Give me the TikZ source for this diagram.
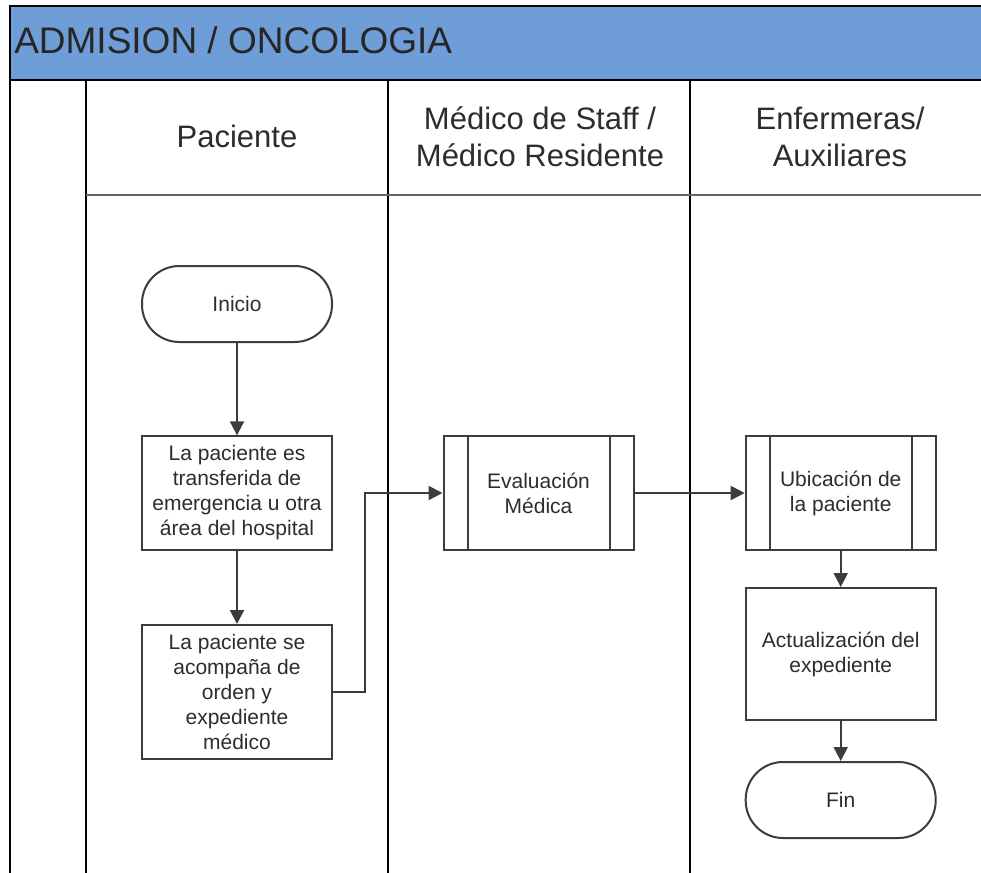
\documentclass[tikz,border=0pt]{standalone}
\usepackage{fontspec}
\setmainfont{Liberation Sans}
\usetikzlibrary{arrows.meta}
\definecolor{bandblue}{RGB}{111,157,216}
\definecolor{inkgray}{RGB}{45,45,45}
\definecolor{edgegray}{RGB}{60,60,60}
\tikzset{
  lane/.style={line width=1.5pt, black},
  boxtext/.style={font=\fontsize{15.75}{18.75}\selectfont, text=inkgray, align=center},
  procbox/.style={boxtext, draw=edgegray, line width=1.5pt, fill=white,
    minimum width=142.5pt, inner sep=0pt},
  termbox/.style={procbox, rounded corners=28pt, minimum height=57pt},
  subproc/.style={procbox, path picture={
      \draw[edgegray, line width=1.5pt]
        ([xshift=18pt]path picture bounding box.north west) --
        ([xshift=18pt]path picture bounding box.south west);
      \draw[edgegray, line width=1.5pt]
        ([xshift=-18pt]path picture bounding box.north east) --
        ([xshift=-18pt]path picture bounding box.south east);}},
  flow/.style={edgegray, line width=1.5pt, -{Triangle[length=10.5pt,width=10.5pt]}},
  lanehead/.style={font=\fontsize{23.25}{27.75}\selectfont, text=inkgray, align=center}
}
\begin{document}
\begin{tikzpicture}[x=0.75pt,y=-0.75pt]
  \clip (0,0) rectangle (981,872);
  \fill[white] (0,0) rectangle (981,872);

  % pool title band
  \draw[line width=1.5pt, fill=bandblue] (10,6) rectangle (1000,80);
  \node[anchor=base west, inner sep=0pt, text=black!85,
        font=\fontsize{27.75}{32}\selectfont] (title) at (14,53) {ADMISION / ONCOLOGIA};

  % lane borders
  \draw[lane] (10,80) -- (10,880);
  \draw[lane] (86,80) -- (86,880);
  \draw[lane] (388,80) -- (388,880);
  \draw[lane] (690,80) -- (690,880);
  \draw[line width=1.6pt, black!60] (86,195) -- (1000,195);

  % lane headings
  \node[lanehead] (hpac) at (237,136) {Paciente};
  \node[lanehead] (hmed) at (540,137) {Médico de Staff /\\Médico Residente};
  \node[lanehead] (henf) at (840,137) {Enfermeras/\\Auxiliares};

  % flow nodes
  \node[termbox] (inicio) at (237,304) {Inicio};
  \node[procbox, minimum height=85pt] (trans) at (237,493)
    {La paciente es\\transferida de\\emergencia u otra\\área del hospital};
  \node[procbox, minimum height=100.5pt] (acomp) at (237,692)
    {La paciente se\\acompaña de\\orden y\\expediente\\médico};
  \node[subproc, minimum height=85pt] (eval) at (538.5,493) {Evaluación\\Médica};
  \node[subproc, minimum height=85pt] (ubic) at (840.7,493) {Ubicación de\\la paciente};
  \node[procbox, minimum height=99pt] (actu) at (840.7,654) {Actualización del\\expediente};
  \node[termbox] (fin) at (840.7,800) {Fin};

  % connectors
  \draw[flow] (inicio) -- (trans);
  \draw[flow] (trans) -- (acomp);
  \draw[flow] (acomp.east) -- ++(31.5,0) |- (eval.west);
  \draw[flow] (eval) -- (ubic);
  \draw[flow] (ubic) -- (actu);
  \draw[flow] (actu) -- (fin);
\end{tikzpicture}
\end{document}
